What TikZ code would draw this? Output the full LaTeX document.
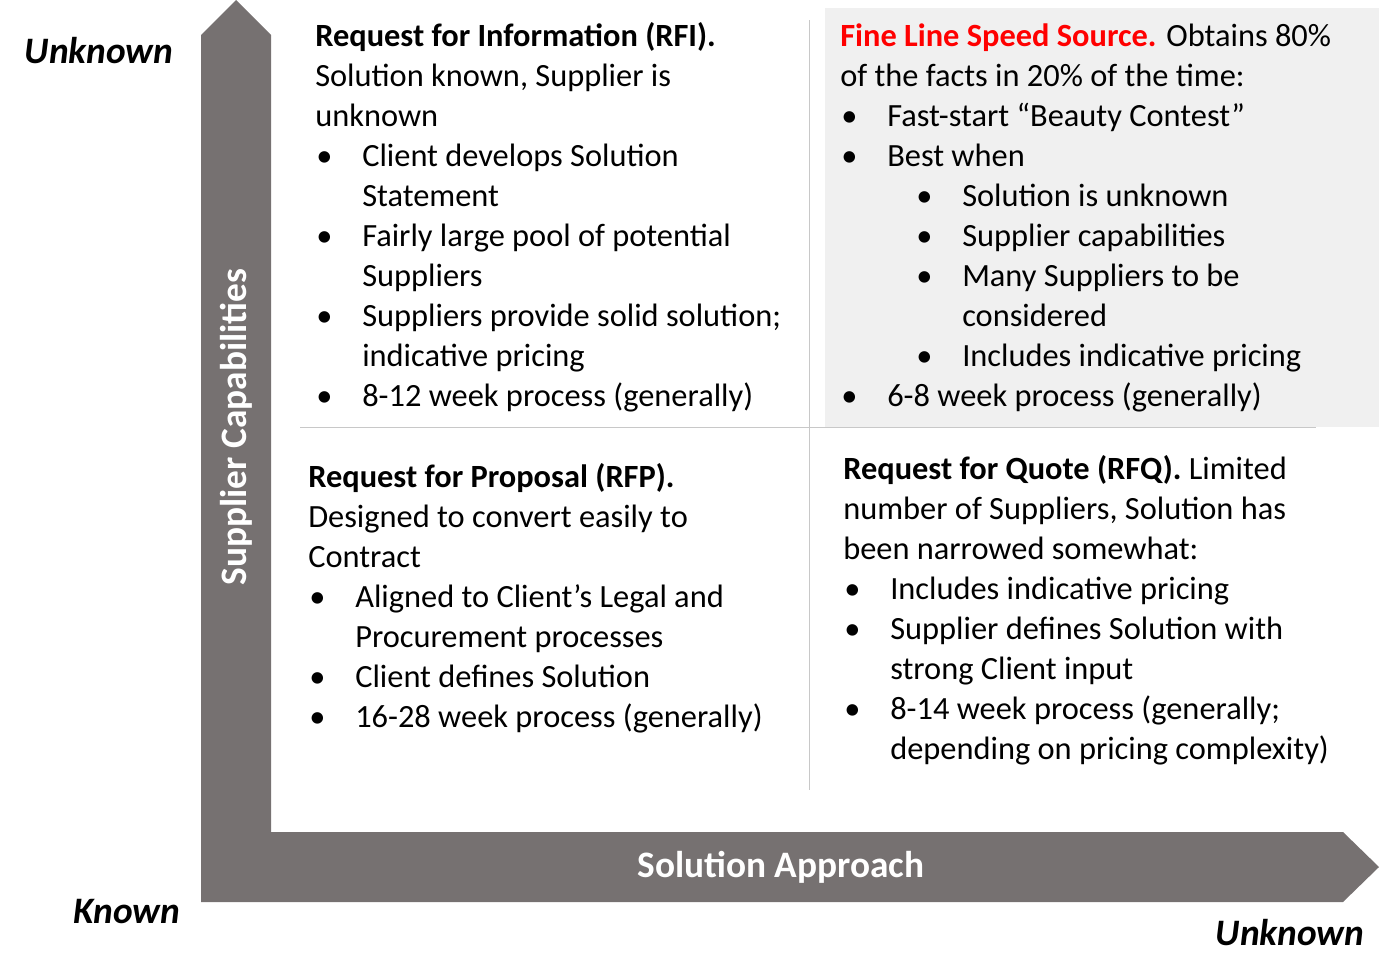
\documentclass[tikz,border=0pt]{standalone}
\usepackage{fontspec}
\setmainfont{Carlito}
\definecolor{axisgray}{HTML}{767171}
\definecolor{bgshade}{HTML}{F0F0F0}
\definecolor{sep}{HTML}{C8C8C8}
\definecolor{redt}{HTML}{FF0000}
\tikzset{txt/.style={anchor=base west,inner sep=0pt,font=\fontsize{24.3}{28}\selectfont},
 axislbl/.style={font=\fontsize{28}{32}\selectfont\bfseries\itshape,inner sep=0pt}}
\newcommand\Tl[3]{\node[txt] at (#1,#2+10) {#3};}
\newcommand\Bl[4]{\node[txt] at (#1,#3+10) {•};\node[txt] at (#2,#3+10) {#4};}
\begin{document}
\begin{tikzpicture}[x=0.75pt,y=-0.75pt]
\useasboundingbox (0,0) rectangle (1389,978);
\fill[bgshade] (825,8) rectangle (1379,427);
\draw[sep] (809,20) -- (809,790);
\draw[sep] (300,427) -- (1316,427);
\fill[axisgray] (201,902) -- (201,35) -- (236,0) -- (271,35) -- (271,832) -- (1343,832) -- (1379,867) -- (1343,902) -- cycle;
\node[white,font=\fontsize{28}{32}\selectfont\bfseries,rotate=90] (ya) at (236,427) {Supplier Capabilities};
\node[white,font=\fontsize{28}{32}\selectfont\bfseries] (xa) at (781,867) {Solution Approach};
\node[axislbl] (u1) at (99,51) {Unknown};
\node[axislbl] (k1) at (127,912) {Known};
\node[axislbl] (u2) at (1290,933) {Unknown};
% top-left
\Tl{315}{36}{\textbf{Request for Information (RFI).}}
\Tl{315}{76}{Solution known, Supplier is}
\Tl{315}{116}{unknown}
\Bl{316}{362}{156}{Client develops Solution}
\Tl{362}{196}{Statement}
\Bl{316}{362}{236}{Fairly large pool of potential}
\Tl{362}{276}{Suppliers}
\Bl{316}{362}{316}{Suppliers provide solid solution;}
\Tl{362}{356}{indicative pricing}
\Bl{316}{362}{396}{8-12 week process (generally)}
% top-right
\Tl{840}{36}{\textcolor{redt}{\textbf{Fine Line Speed Source.}} Obtains 80\%}
\Tl{840}{76}{of the facts in 20\% of the time:}
\Bl{841}{887}{116}{Fast-start “Beauty Contest”}
\Bl{841}{887}{156}{Best when}
\Bl{916}{962}{196}{Solution is unknown}
\Bl{916}{962}{236}{Supplier capabilities}
\Bl{916}{962}{276}{Many Suppliers to be}
\Tl{962}{316}{considered}
\Bl{916}{962}{356}{Includes indicative pricing}
\Bl{841}{887}{396}{6-8 week process (generally)}
% bottom-left
\Tl{308}{477}{\textbf{Request for Proposal (RFP).}}
\Tl{308}{517}{Designed to convert easily to}
\Tl{308}{557}{Contract}
\Bl{309}{355}{597}{Aligned to Client’s Legal and}
\Tl{355}{637}{Procurement processes}
\Bl{309}{355}{677}{Client defines Solution}
\Bl{309}{355}{717}{16-28 week process (generally)}
% bottom-right
\Tl{843}{469}{\textbf{Request for Quote (RFQ).} Limited}
\Tl{843}{509}{number of Suppliers, Solution has}
\Tl{843}{549}{been narrowed somewhat:}
\Bl{844}{890}{589}{Includes indicative pricing}
\Bl{844}{890}{629}{Supplier defines Solution with}
\Tl{890}{669}{strong Client input}
\Bl{844}{890}{709}{8-14 week process (generally;}
\Tl{890}{749}{depending on pricing complexity)}
\end{tikzpicture}
\end{document}
